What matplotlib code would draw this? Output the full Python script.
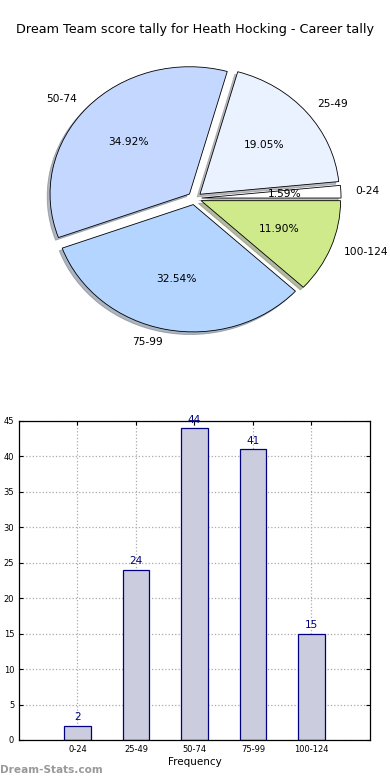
import matplotlib
matplotlib.use("Agg")
import matplotlib.pyplot as plt

categories = ["0-24", "25-49", "50-74", "75-99", "100-124"]
counts = [2, 24, 44, 41, 15]
pie_colors = ["#ffffff", "#eaf1ff", "#c4d8ff", "#b4d5ff", "#ceea8a"]
yticks = [0, 5, 10, 15, 20, 25, 30, 35, 40, 45]

fig = plt.figure(figsize=(3.9, 7.8), dpi=100)
fig.text(0.5, 1 - 30 / 780, "Dream Team score tally for Heath Hocking - Career tally",
         ha="center", va="center", fontsize=9.2)

# Pie
axp = fig.add_axes([0.052, 0.5417, 0.894, 0.408])
wedges, texts, autotexts = axp.pie(
    counts, labels=categories, colors=pie_colors, explode=[0.05] * len(counts),
    autopct="%1.2f%%", shadow={"ox": -0.015, "oy": -0.015, "shade": 0.5}, startangle=0,
    wedgeprops=dict(edgecolor="black", linewidth=0.6),
    textprops=dict(fontsize=7.7))
axp.set_aspect("auto")
axp.set_xlim(-1.25, 1.25)
axp.set_ylim(-1.25, 1.25)
axp.axis("off")

# Bar chart
axb = fig.add_axes([0.0487, 0.0513, 0.9, 0.409])
x = list(range(len(categories)))
bars = axb.bar(x, counts, width=0.45, color="#ccccdf", edgecolor="navy", linewidth=0.9, zorder=2)
for xi, c in zip(x, counts):
    axb.text(xi, c + 0.5, str(c), ha="center", va="bottom", fontsize=7.5, color="navy")
axb.set_xlim(-1, 5)
axb.set_ylim(0, 45)
axb.set_xticks(x)
axb.set_xticklabels(categories)
axb.set_yticks(yticks)
axb.tick_params(axis="both", labelsize=6, direction="in", top=True, right=True, length=3)
axb.grid(True, linestyle=":", color="#aaaaaa", linewidth=0.9, zorder=0)
axb.set_axisbelow(True)
axb.set_xlabel("Frequency", fontsize=7.5, labelpad=2)
for s in axb.spines.values():
    s.set_linewidth(0.9)

fig.text(0.0, 1 - 770 / 780, "Dream-Stats.com", ha="left", va="center",
         fontsize=7.6, color="#999999", fontweight="bold")

fig.savefig("out.png", dpi=100)
